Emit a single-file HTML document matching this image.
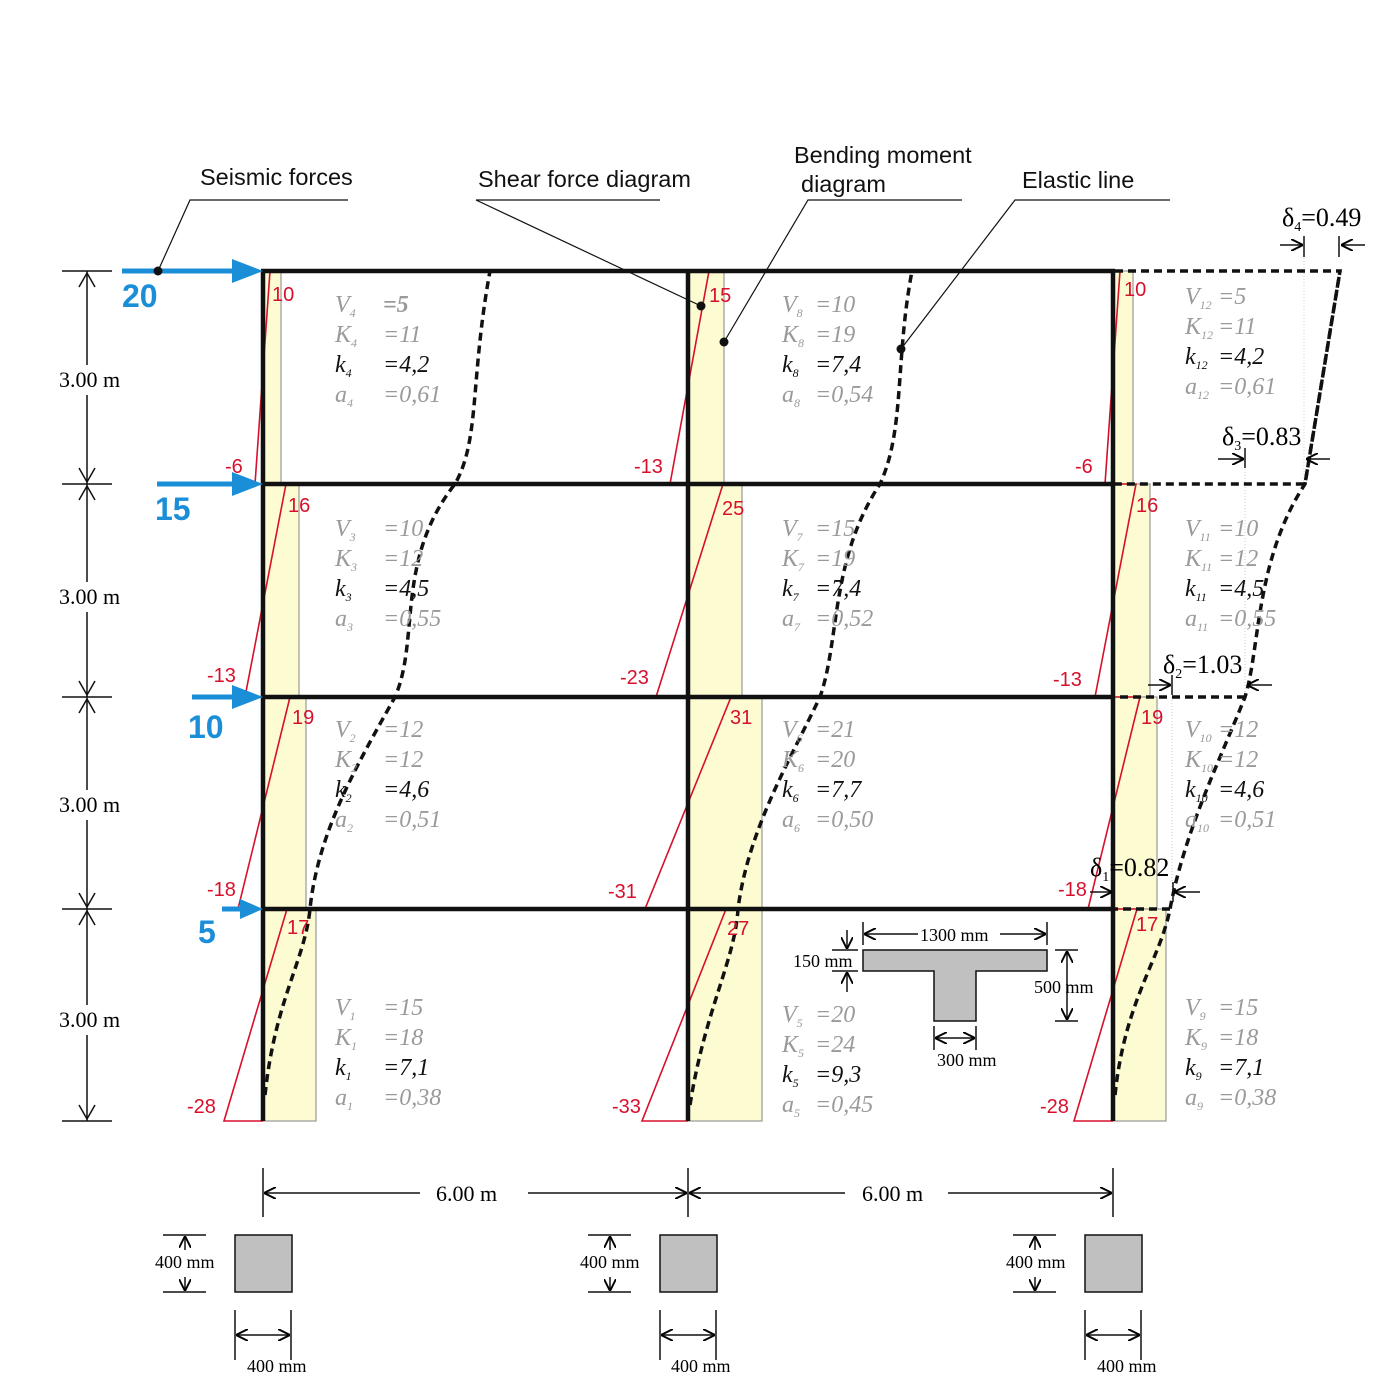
<!DOCTYPE html>
<html><head><meta charset="utf-8"><style>
html,body{margin:0;padding:0;background:#fff;width:1384px;height:1400px;overflow:hidden}
svg{display:block}
.r{font-family:"Liberation Sans",sans-serif;font-size:20px;fill:#d7102c}
.s{font-family:"Liberation Serif",serif;font-size:22px;fill:#000}
.l{font-family:"Liberation Sans",sans-serif;font-size:23.5px;fill:#111}
.v{font-family:"Liberation Serif",serif;font-style:italic;font-size:24px;fill:#9a9a9a}
.k{font-family:"Liberation Serif",serif;font-style:italic;font-size:24px;fill:#111}
.b{font-family:"Liberation Sans",sans-serif;font-weight:bold;font-size:32px;fill:#1a8fd8}
.d{font-family:"Liberation Serif",serif;font-size:26px;fill:#000}
.m{font-family:"Liberation Serif",serif;font-size:18px;fill:#000}
</style></head><body>
<svg width="1384" height="1400" viewBox="0 0 1384 1400" xmlns="http://www.w3.org/2000/svg">
<defs>
<marker id="a" viewBox="0 0 10 10" refX="10" refY="5" markerWidth="12" markerHeight="12" markerUnits="userSpaceOnUse" orient="auto"><path d="M0,0 L10,5 L0,10" fill="none" stroke="#000" stroke-width="1.6"/></marker>
</defs>
<g fill="#fdfbd2" stroke="#999" stroke-width="1.2">
<rect x="263" y="271" width="18" height="213"/><rect x="263" y="484" width="36" height="213"/><rect x="263" y="697" width="43" height="212"/><rect x="263" y="909" width="53" height="212"/>
<rect x="688" y="271" width="36" height="213"/><rect x="688" y="484" width="54" height="213"/><rect x="688" y="697" width="74" height="212"/><rect x="688" y="909" width="74" height="212"/>
<rect x="1113" y="271" width="20" height="213"/><rect x="1113" y="484" width="37" height="213"/><rect x="1113" y="697" width="44" height="212"/><rect x="1113" y="909" width="53" height="212"/>
</g>
<g stroke="#ccc" stroke-width="1" stroke-dasharray="1,2">
<line x1="1304" y1="258" x2="1304" y2="484"/><line x1="1245" y1="460" x2="1245" y2="697"/><line x1="1172" y1="685" x2="1172" y2="909"/>
</g>
<g fill="none" stroke="#d7102c" stroke-width="1.6">
<path d="M263,271 L270,271 L255,484 L263,484"/>
<path d="M263,484 L286,484 L245,697 L263,697"/>
<path d="M263,697 L290,697 L238,909 L263,909"/>
<path d="M263,909 L287,909 L224,1121 L263,1121"/>
<path d="M688,271 L709,271 L670,484 L688,484"/>
<path d="M688,484 L723,484 L656,697 L688,697"/>
<path d="M688,697 L731,697 L645,909 L688,909"/>
<path d="M688,909 L726,909 L642,1121 L688,1121"/>
<path d="M1113,271 L1120,271 L1105,484 L1113,484"/>
<path d="M1113,484 L1136,484 L1095,697 L1113,697"/>
<path d="M1113,697 L1140,697 L1088,909 L1113,909"/>
<path d="M1113,909 L1137,909 L1074,1121 L1113,1121"/>
</g>
<g stroke="#111" stroke-width="4.5" fill="none">
<line x1="263" y1="271" x2="263" y2="1121"/><line x1="688" y1="271" x2="688" y2="1121"/><line x1="1113" y1="271" x2="1113" y2="1121"/>
<line x1="261" y1="271" x2="1115" y2="271"/><line x1="261" y1="484" x2="1115" y2="484"/><line x1="261" y1="697" x2="1115" y2="697"/><line x1="261" y1="909" x2="1115" y2="909"/>
</g>
<g stroke="#111" stroke-width="3.5" fill="none" stroke-dasharray="8,5">
<path d="M1115,271 L1340,271 L1305,484 L1115,484"/>
<path d="M1245,697 L1115,697"/><path d="M1170,909 L1115,909"/>
<path d="M265,1095 C275,1000 305,960 310,909 C318,830 360,760 395,697 C420,640 395,560 455,484 C480,440 470,380 490,271"/>
<path d="M690,1105 C705,1010 735,960 738,909 C748,830 790,760 820,697 C840,640 830,560 880,484 C905,430 895,360 912,271"/>
<path d="M1115,1095 C1125,1000 1160,960 1170,909 C1185,830 1220,760 1245,697 C1260,650 1255,560 1305,484 L1340,271"/>
</g>
<g stroke="#1a8fd8" stroke-width="5">
<line x1="122" y1="271" x2="240" y2="271"/><line x1="157" y1="484" x2="240" y2="484"/><line x1="192" y1="697" x2="240" y2="697"/><line x1="222" y1="909" x2="245" y2="909"/>
</g>
<g fill="#1a8fd8">
<polygon points="232,259 263,271 232,283"/><polygon points="232,472 263,484 232,496"/><polygon points="232,685 263,697 232,709"/><polygon points="240,899 263,909 240,919"/>
</g>
<text class="b" x="122" y="307">20</text><text class="b" x="155" y="520">15</text><text class="b" x="188" y="738">10</text><text class="b" x="198" y="943">5</text>
<g stroke="#111" stroke-width="1.5">
<line x1="87" y1="271" x2="87" y2="1121"/>
<line x1="62" y1="271" x2="112" y2="271"/><line x1="62" y1="484" x2="112" y2="484"/><line x1="62" y1="697" x2="112" y2="697"/><line x1="62" y1="909" x2="112" y2="909"/><line x1="62" y1="1121" x2="112" y2="1121"/>
<path d="M79,287 L87,273 L95,287 M79,468 L87,482 L95,468 M79,500 L87,486 L95,500 M79,681 L87,695 L95,681 M79,713 L87,699 L95,713 M79,893 L87,907 L95,893 M79,925 L87,911 L95,925 M79,1105 L87,1119 L95,1105" fill="none"/>
</g>
<g fill="#fff"><rect x="55" y="365" width="75" height="30"/><rect x="55" y="582" width="75" height="30"/><rect x="55" y="790" width="75" height="30"/><rect x="55" y="1005" width="75" height="30"/></g>
<text class="s" x="59" y="387">3.00 m</text><text class="s" x="59" y="604">3.00 m</text><text class="s" x="59" y="812">3.00 m</text><text class="s" x="59" y="1027">3.00 m</text>
<text class="r" x="272" y="301">10</text><text class="r" x="225" y="473">-6</text><text class="r" x="288" y="512">16</text><text class="r" x="207" y="682">-13</text><text class="r" x="292" y="724">19</text><text class="r" x="207" y="896">-18</text><text class="r" x="287" y="934">17</text><text class="r" x="187" y="1113">-28</text>
<text class="r" x="709" y="302">15</text><text class="r" x="634" y="473">-13</text><text class="r" x="722" y="515">25</text><text class="r" x="620" y="684">-23</text><text class="r" x="730" y="724">31</text><text class="r" x="608" y="898">-31</text><text class="r" x="727" y="935">27</text><text class="r" x="612" y="1113">-33</text>
<text class="r" x="1124" y="296">10</text><text class="r" x="1075" y="473">-6</text><text class="r" x="1136" y="512">16</text><text class="r" x="1053" y="686">-13</text><text class="r" x="1141" y="724">19</text><text class="r" x="1058" y="896">-18</text><text class="r" x="1136" y="931">17</text><text class="r" x="1040" y="1113">-28</text>
<g>
<text class="v" x="335" y="312">V<tspan font-size="12" dy="5">4</tspan><tspan x="383" dy="-5" font-weight="bold">=5</tspan></text>
<text class="v" x="335" y="342">K<tspan font-size="12" dy="5">4</tspan><tspan x="383" dy="-5">=11</tspan></text>
<text class="k" x="335" y="372">k<tspan font-size="12" dy="5">4</tspan><tspan x="383" dy="-5">=4,2</tspan></text>
<text class="v" x="335" y="402">a<tspan font-size="12" dy="5">4</tspan><tspan x="383" dy="-5">=0,61</tspan></text>
<text class="v" x="335" y="536">V<tspan font-size="12" dy="5">3</tspan><tspan x="383" dy="-5">=10</tspan></text>
<text class="v" x="335" y="566">K<tspan font-size="12" dy="5">3</tspan><tspan x="383" dy="-5">=12</tspan></text>
<text class="k" x="335" y="596">k<tspan font-size="12" dy="5">3</tspan><tspan x="383" dy="-5">=4,5</tspan></text>
<text class="v" x="335" y="626">a<tspan font-size="12" dy="5">3</tspan><tspan x="383" dy="-5">=0,55</tspan></text>
<text class="v" x="335" y="737">V<tspan font-size="12" dy="5">2</tspan><tspan x="383" dy="-5">=12</tspan></text>
<text class="v" x="335" y="767">K<tspan font-size="12" dy="5">2</tspan><tspan x="383" dy="-5">=12</tspan></text>
<text class="k" x="335" y="797">k<tspan font-size="12" dy="5">2</tspan><tspan x="383" dy="-5">=4,6</tspan></text>
<text class="v" x="335" y="827">a<tspan font-size="12" dy="5">2</tspan><tspan x="383" dy="-5">=0,51</tspan></text>
<text class="v" x="335" y="1015">V<tspan font-size="12" dy="5">1</tspan><tspan x="383" dy="-5">=15</tspan></text>
<text class="v" x="335" y="1045">K<tspan font-size="12" dy="5">1</tspan><tspan x="383" dy="-5">=18</tspan></text>
<text class="k" x="335" y="1075">k<tspan font-size="12" dy="5">1</tspan><tspan x="383" dy="-5">=7,1</tspan></text>
<text class="v" x="335" y="1105">a<tspan font-size="12" dy="5">1</tspan><tspan x="383" dy="-5">=0,38</tspan></text>
</g>
<g>
<text class="v" x="782" y="312">V<tspan font-size="12" dy="5">8</tspan><tspan x="815" dy="-5">=10</tspan></text>
<text class="v" x="782" y="342">K<tspan font-size="12" dy="5">8</tspan><tspan x="815" dy="-5">=19</tspan></text>
<text class="k" x="782" y="372">k<tspan font-size="12" dy="5">8</tspan><tspan x="815" dy="-5">=7,4</tspan></text>
<text class="v" x="782" y="402">a<tspan font-size="12" dy="5">8</tspan><tspan x="815" dy="-5">=0,54</tspan></text>
<text class="v" x="782" y="536">V<tspan font-size="12" dy="5">7</tspan><tspan x="815" dy="-5">=15</tspan></text>
<text class="v" x="782" y="566">K<tspan font-size="12" dy="5">7</tspan><tspan x="815" dy="-5">=19</tspan></text>
<text class="k" x="782" y="596">k<tspan font-size="12" dy="5">7</tspan><tspan x="815" dy="-5">=7,4</tspan></text>
<text class="v" x="782" y="626">a<tspan font-size="12" dy="5">7</tspan><tspan x="815" dy="-5">=0,52</tspan></text>
<text class="v" x="782" y="737">V<tspan font-size="12" dy="5">6</tspan><tspan x="815" dy="-5">=21</tspan></text>
<text class="v" x="782" y="767">K<tspan font-size="12" dy="5">6</tspan><tspan x="815" dy="-5">=20</tspan></text>
<text class="k" x="782" y="797">k<tspan font-size="12" dy="5">6</tspan><tspan x="815" dy="-5">=7,7</tspan></text>
<text class="v" x="782" y="827">a<tspan font-size="12" dy="5">6</tspan><tspan x="815" dy="-5">=0,50</tspan></text>
<text class="v" x="782" y="1022">V<tspan font-size="12" dy="5">5</tspan><tspan x="815" dy="-5">=20</tspan></text>
<text class="v" x="782" y="1052">K<tspan font-size="12" dy="5">5</tspan><tspan x="815" dy="-5">=24</tspan></text>
<text class="k" x="782" y="1082">k<tspan font-size="12" dy="5">5</tspan><tspan x="815" dy="-5">=9,3</tspan></text>
<text class="v" x="782" y="1112">a<tspan font-size="12" dy="5">5</tspan><tspan x="815" dy="-5">=0,45</tspan></text>
</g>
<g>
<text class="v" x="1185" y="304">V<tspan font-size="12" dy="5">12</tspan><tspan x="1218" dy="-5">=5</tspan></text>
<text class="v" x="1185" y="334">K<tspan font-size="12" dy="5">12</tspan><tspan x="1218" dy="-5">=11</tspan></text>
<text class="k" x="1185" y="364">k<tspan font-size="12" dy="5">12</tspan><tspan x="1218" dy="-5">=4,2</tspan></text>
<text class="v" x="1185" y="394">a<tspan font-size="12" dy="5">12</tspan><tspan x="1218" dy="-5">=0,61</tspan></text>
<text class="v" x="1185" y="536">V<tspan font-size="12" dy="5">11</tspan><tspan x="1218" dy="-5">=10</tspan></text>
<text class="v" x="1185" y="566">K<tspan font-size="12" dy="5">11</tspan><tspan x="1218" dy="-5">=12</tspan></text>
<text class="k" x="1185" y="596">k<tspan font-size="12" dy="5">11</tspan><tspan x="1218" dy="-5">=4,5</tspan></text>
<text class="v" x="1185" y="626">a<tspan font-size="12" dy="5">11</tspan><tspan x="1218" dy="-5">=0,55</tspan></text>
<text class="v" x="1185" y="737">V<tspan font-size="12" dy="5">10</tspan><tspan x="1218" dy="-5">=12</tspan></text>
<text class="v" x="1185" y="767">K<tspan font-size="12" dy="5">10</tspan><tspan x="1218" dy="-5">=12</tspan></text>
<text class="k" x="1185" y="797">k<tspan font-size="12" dy="5">10</tspan><tspan x="1218" dy="-5">=4,6</tspan></text>
<text class="v" x="1185" y="827">a<tspan font-size="12" dy="5">10</tspan><tspan x="1218" dy="-5">=0,51</tspan></text>
<text class="v" x="1185" y="1015">V<tspan font-size="12" dy="5">9</tspan><tspan x="1218" dy="-5">=15</tspan></text>
<text class="v" x="1185" y="1045">K<tspan font-size="12" dy="5">9</tspan><tspan x="1218" dy="-5">=18</tspan></text>
<text class="k" x="1185" y="1075">k<tspan font-size="12" dy="5">9</tspan><tspan x="1218" dy="-5">=7,1</tspan></text>
<text class="v" x="1185" y="1105">a<tspan font-size="12" dy="5">9</tspan><tspan x="1218" dy="-5">=0,38</tspan></text>
</g>
<g stroke="#111" stroke-width="1.2" fill="none">
<path d="M348,200 L190,200 L158,271"/><path d="M660,200 L476,200 L701,306"/><path d="M962,200 L808,200 L724,342"/><path d="M1170,200 L1015,200 L901,349"/>
</g>
<g fill="#111"><circle cx="158" cy="271" r="4.5"/><circle cx="701" cy="306" r="4.5"/><circle cx="724" cy="342" r="4.5"/><circle cx="901" cy="349" r="4.5"/></g>
<text class="l" x="200" y="185">Seismic forces</text>
<text class="l" x="478" y="187">Shear force diagram</text>
<text class="l" x="794" y="163">Bending moment</text>
<text class="l" x="801" y="192">diagram</text>
<text class="l" x="1022" y="188">Elastic line</text>
<text class="d" x="1282" y="226">δ<tspan font-size="14" dy="5">4</tspan><tspan dy="-5">=0.49</tspan></text>
<text class="d" x="1222" y="445">δ<tspan font-size="14" dy="5">3</tspan><tspan dy="-5">=0.83</tspan></text>
<text class="d" x="1163" y="673">δ<tspan font-size="14" dy="5">2</tspan><tspan dy="-5">=1.03</tspan></text>
<text class="d" x="1090" y="876">δ<tspan font-size="14" dy="5">1</tspan><tspan dy="-5">=0.82</tspan></text>
<g stroke="#111" stroke-width="1.5" fill="none">
<line x1="1280" y1="245" x2="1303" y2="245" marker-end="url(#a)"/><line x1="1365" y1="245" x2="1341" y2="245" marker-end="url(#a)"/>
<line x1="1304" y1="236" x2="1304" y2="257"/><line x1="1339" y1="236" x2="1339" y2="257"/>
<line x1="1218" y1="459" x2="1244" y2="459" marker-end="url(#a)"/><line x1="1330" y1="459" x2="1306" y2="459" marker-end="url(#a)"/>
<line x1="1245" y1="448" x2="1245" y2="468"/>
<line x1="1148" y1="685" x2="1171" y2="685" marker-end="url(#a)"/><line x1="1272" y1="685" x2="1247" y2="685" marker-end="url(#a)"/>
<line x1="1172" y1="675" x2="1172" y2="695"/>
<line x1="1090" y1="892" x2="1112" y2="892" marker-end="url(#a)"/><line x1="1200" y1="892" x2="1174" y2="892" marker-end="url(#a)"/>
<line x1="1173" y1="882" x2="1173" y2="902"/>
</g>
<path d="M863,950 L1047,950 L1047,971 L976,971 L976,1021 L934,1021 L934,971 L863,971 Z" fill="#c0c0c0" stroke="#111" stroke-width="1.5"/>
<g stroke="#111" stroke-width="1.5" fill="none">
<line x1="863" y1="922" x2="863" y2="945"/><line x1="1047" y1="922" x2="1047" y2="945"/>
<line x1="918" y1="934" x2="864" y2="934" marker-end="url(#a)"/><line x1="1000" y1="934" x2="1046" y2="934" marker-end="url(#a)"/>
<line x1="832" y1="950" x2="858" y2="950"/><line x1="832" y1="971" x2="858" y2="971"/>
<line x1="847" y1="930" x2="847" y2="949" marker-end="url(#a)"/><line x1="847" y1="992" x2="847" y2="972" marker-end="url(#a)"/>
<line x1="1055" y1="950" x2="1078" y2="950"/><line x1="1055" y1="1021" x2="1078" y2="1021"/>
<line x1="1067" y1="985" x2="1067" y2="951" marker-end="url(#a)"/><line x1="1067" y1="985" x2="1067" y2="1020" marker-end="url(#a)"/>
<line x1="934" y1="1026" x2="934" y2="1050"/><line x1="976" y1="1026" x2="976" y2="1050"/>
<line x1="955" y1="1038" x2="935" y2="1038" marker-end="url(#a)"/><line x1="955" y1="1038" x2="975" y2="1038" marker-end="url(#a)"/>
</g>
<text class="m" x="920" y="941">1300 mm</text>
<text class="m" x="793" y="967">150 mm</text>
<text class="m" x="1034" y="993">500 mm</text>
<text class="m" x="937" y="1066">300 mm</text>
<g stroke="#111" stroke-width="1.5" fill="none">
<line x1="263" y1="1168" x2="263" y2="1217"/><line x1="688" y1="1168" x2="688" y2="1217"/><line x1="1113" y1="1168" x2="1113" y2="1217"/>
<line x1="420" y1="1193" x2="264" y2="1193" marker-end="url(#a)"/><line x1="528" y1="1193" x2="687" y2="1193" marker-end="url(#a)"/>
<line x1="845" y1="1193" x2="689" y2="1193" marker-end="url(#a)"/><line x1="948" y1="1193" x2="1112" y2="1193" marker-end="url(#a)"/>
</g>
<text class="s" x="436" y="1201">6.00 m</text><text class="s" x="862" y="1201">6.00 m</text>
<g fill="#c0c0c0" stroke="#111" stroke-width="1.5">
<rect x="235" y="1235" width="57" height="57"/><rect x="660" y="1235" width="57" height="57"/><rect x="1085" y="1235" width="57" height="57"/>
</g>
<g stroke="#111" stroke-width="1.5" fill="none">
<g id="cd">
<line x1="163" y1="1235" x2="206" y2="1235"/><line x1="163" y1="1292" x2="206" y2="1292"/>
<line x1="185" y1="1250" x2="185" y2="1236" marker-end="url(#a)"/><line x1="185" y1="1277" x2="185" y2="1291" marker-end="url(#a)"/>
<line x1="235" y1="1310" x2="235" y2="1360"/><line x1="291" y1="1310" x2="291" y2="1360"/>
<line x1="263" y1="1335" x2="236" y2="1335" marker-end="url(#a)"/><line x1="263" y1="1335" x2="290" y2="1335" marker-end="url(#a)"/>
</g>
<use href="#cd" x="425"/><use href="#cd" x="850"/>
</g>
<text class="m" x="155" y="1268">400 mm</text><text class="m" x="580" y="1268">400 mm</text><text class="m" x="1006" y="1268">400 mm</text>
<text class="m" x="247" y="1372">400 mm</text><text class="m" x="671" y="1372">400 mm</text><text class="m" x="1097" y="1372">400 mm</text>
</svg>
</body></html>
